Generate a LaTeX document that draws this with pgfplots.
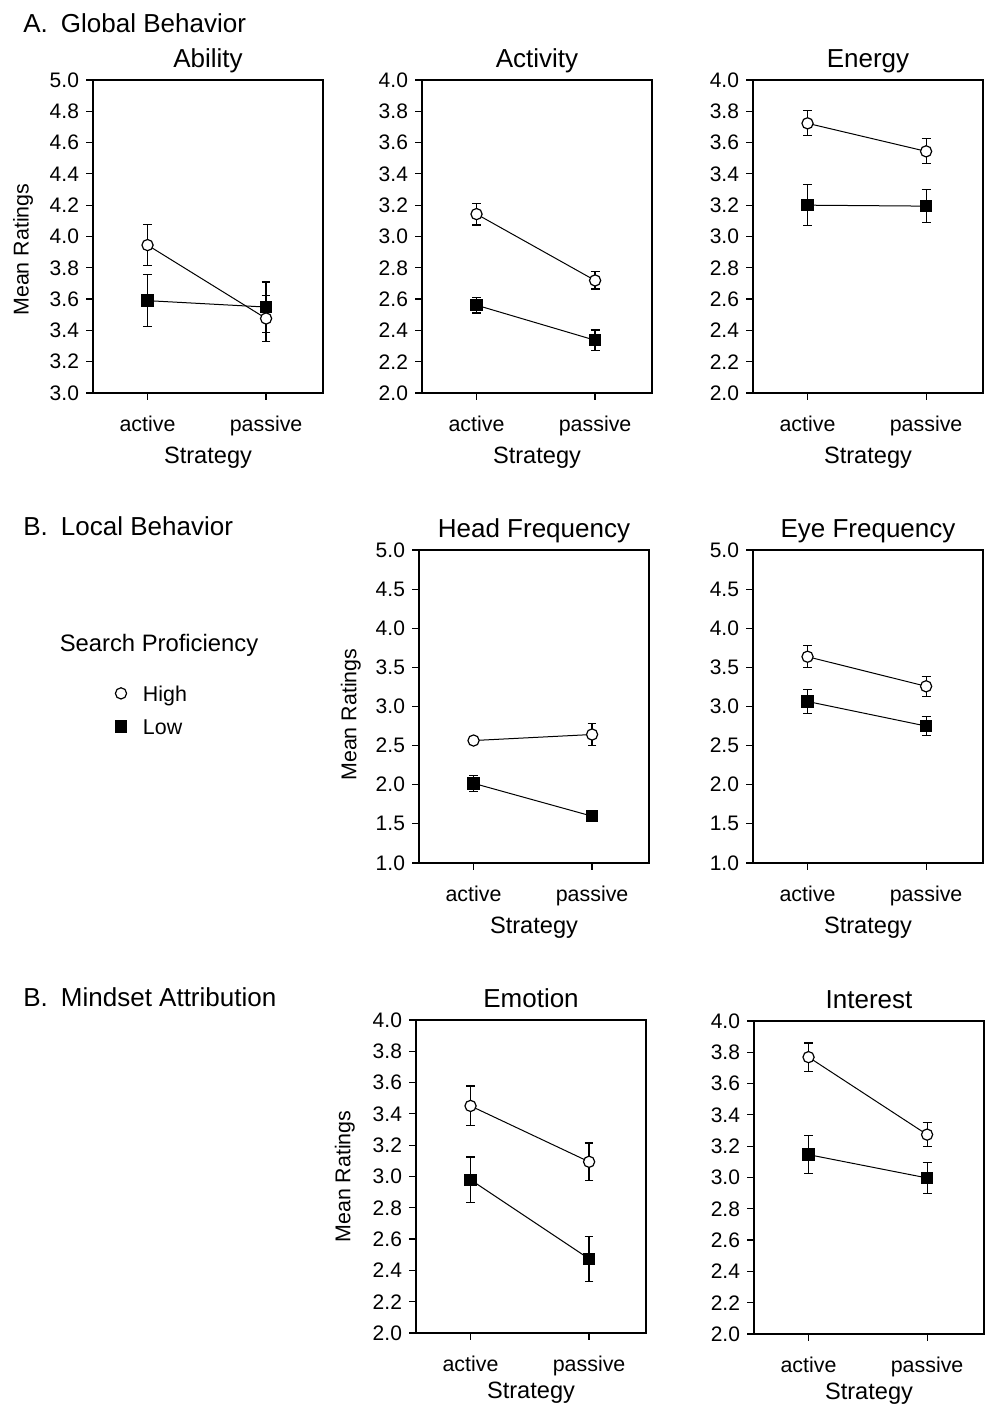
\documentclass[border=0pt]{standalone}
\usepackage{fontspec}
\setmainfont{Liberation Sans}
\usepackage{pgfplots}
\pgfplotsset{compat=1.18}

\pgfplotsset{
 every axis title shift=0pt,
 panel/.style={
  scale only axis, width=115pt, height=156.5pt,
  xmin=-0.46, xmax=1.48,
  xtick={0,1}, xticklabels={active,passive},
  tick align=outside, tick pos=left,
  major tick length=3.5pt,
  axis line style={line width=0.6pt},
  every tick/.style={line width=0.6pt, black},
  xlabel={Strategy},
  xlabel style={at={(axis description cs:0.5,0)}, anchor=base, yshift=-35.5pt, font=\fontsize{11.8pt}{14pt}\selectfont, inner sep=0pt},
  title style={at={(axis description cs:0.5,1)}, anchor=base, yshift=6.2pt, font=\fontsize{13pt}{15pt}\selectfont, inner sep=0pt},
  xticklabel style={font=\fontsize{10.7pt}{13pt}\selectfont, anchor=base, yshift=-16pt},
  yticklabel style={font=\fontsize{10.5pt}{13pt}\selectfont, /pgf/number format/fixed, /pgf/number format/fixed zerofill, /pgf/number format/precision=1},
  /pgf/number format/assume math mode=true,
  ylabel style={font=\fontsize{10.7pt}{13pt}\selectfont},
  clip=false,
 },
 bottomrow/.style={xlabel style={yshift=2.5pt}},
 hi/.style={black, line width=0.5pt, mark=*, mark size=2.8pt,
   mark options={fill=white, draw=black, line width=0.6pt},
   error bars/y dir=both, error bars/y explicit,
   error bars/error bar style={line width=0.6pt, black},
   error bars/error mark options={line width=0.6pt, mark size=2.2pt, rotate=90}},
 lo/.style={black, line width=0.5pt, mark=square*, mark size=2.8pt,
   mark options={fill=black, draw=black, line width=0.6pt},
   error bars/y dir=both, error bars/y explicit,
   error bars/error bar style={line width=0.6pt, black},
   error bars/error mark options={line width=0.6pt, mark size=2.2pt, rotate=90}},
}

\begin{document}
\begin{tikzpicture}
\path[use as bounding box] (0,0) rectangle (493pt,703pt);

\node[anchor=base west, inner sep=0pt, font=\fontsize{13pt}{15pt}\selectfont] at (11.5pt,686.5pt) {A.\hspace{0.5em}Global Behavior};
\node[anchor=base west, inner sep=0pt, font=\fontsize{13pt}{15pt}\selectfont] at (11.5pt,435pt) {B.\hspace{0.5em}Local Behavior};
\node[anchor=base west, inner sep=0pt, font=\fontsize{13pt}{15pt}\selectfont] at (11.5pt,199.5pt) {B.\hspace{0.5em}Mindset Attribution};
\node[anchor=base, inner sep=0pt, font=\fontsize{11.9pt}{14pt}\selectfont] at (79.5pt,377pt) {Search Proficiency};

% Ability
\begin{axis}[panel, at={(46.5pt,506.5pt)}, anchor=south west,
  title={Ability}, ymin=3, ymax=5, ytick={3.0,3.2,...,5.01},
  ylabel={Mean Ratings}, ylabel style={at={(axis description cs:-0.304,0.458)}, anchor=center}]
\addplot[lo] table[x=x,y=y,y error=e] {
x y e
0 3.590 0.165
1 3.549 0.160
};
\addplot[hi] table[x=x,y=y,y error=e] {
x y e
0 3.945 0.130
1 3.476 0.145
};
\end{axis}

% Activity
\begin{axis}[panel, at={(211pt,506.5pt)}, anchor=south west,
  title={Activity}, ymin=2, ymax=4, ytick={2.0,2.2,...,4.01}]
\addplot[lo] table[x=x,y=y,y error=e] {
x y e
0 2.561 0.050
1 2.337 0.065
};
\addplot[hi] table[x=x,y=y,y error=e] {
x y e
0 3.143 0.070
1 2.719 0.055
};
\end{axis}

% Energy
\begin{axis}[panel, at={(376.5pt,506.5pt)}, anchor=south west,
  title={Energy}, ymin=2, ymax=4, ytick={2.0,2.2,...,4.01}]
\addplot[lo] table[x=x,y=y,y error=e] {
x y e
0 3.200 0.130
1 3.194 0.105
};
\addplot[hi] table[x=x,y=y,y error=e] {
x y e
0 3.723 0.080
1 3.544 0.080
};
\end{axis}

% Head Frequency
\begin{axis}[panel, at={(209.5pt,271.5pt)}, anchor=south west,
  title={Head Frequency}, ymin=1, ymax=5, ytick={1.0,1.5,...,5.01},
  ylabel={Mean Ratings}, ylabel style={at={(axis description cs:-0.296,0.474)}, anchor=center},
  legend cell align=left,
  legend style={at={(axis description cs:0,0)}, anchor=north west, xshift=-152.3pt, yshift=88.85pt,
    draw=none, fill=none, inner sep=0pt, row sep=8.8pt,
    font=\fontsize{10.7pt}{13pt}\selectfont,
    nodes={inner sep=0pt, text height=7.7pt, text depth=0pt}}]
\addlegendimage{legend image code/.code={%
  \draw[only marks, mark=*, mark size=2.8pt, mark options={fill=white, draw=black, line width=0.6pt}] plot coordinates {(0pt,0pt)};
  \path[draw=none, fill=none] (-3.1pt,0pt) -- (11pt,0pt);}}
\addlegendentry{High}
\addlegendimage{legend image code/.code={%
  \draw[only marks, mark=square*, mark size=2.8pt, mark options={fill=black, draw=black, line width=0.6pt}] plot coordinates {(0pt,0pt)};
  \path[draw=none, fill=none] (-3.1pt,0pt) -- (10pt,0pt);}}
\addlegendentry{Low}
\addplot[forget plot, lo] table[x=x,y=y,y error=e] {
x y e
0 2.018 0.100
1 1.598 0.040
};
\addplot[forget plot, hi] table[x=x,y=y,y error=e] {
x y e
0 2.565 0.050
1 2.642 0.145
};
\end{axis}

% Eye Frequency
\begin{axis}[panel, at={(376.5pt,271.5pt)}, anchor=south west,
  title={Eye Frequency}, ymin=1, ymax=5, ytick={1.0,1.5,...,5.01}]
\addplot[lo] table[x=x,y=y,y error=e] {
x y e
0 3.064 0.150
1 2.750 0.125
};
\addplot[hi] table[x=x,y=y,y error=e] {
x y e
0 3.636 0.140
1 3.258 0.130
};
\end{axis}

% Emotion
\begin{axis}[panel, bottomrow, at={(208pt,36.5pt)}, anchor=south west,
  title={Emotion}, ymin=2, ymax=4, ytick={2.0,2.2,...,4.01},
  ylabel={Mean Ratings}, ylabel style={at={(axis description cs:-0.309,0.5)}, anchor=center}]
\addplot[lo] table[x=x,y=y,y error=e] {
x y e
0 2.979 0.145
1 2.474 0.143
};
\addplot[hi] table[x=x,y=y,y error=e] {
x y e
0 3.451 0.127
1 3.094 0.120
};
\end{axis}

% Interest
\begin{axis}[panel, bottomrow, at={(377pt,36pt)}, anchor=south west,
  title={Interest}, ymin=2, ymax=4, ytick={2.0,2.2,...,4.01}]
\addplot[lo] table[x=x,y=y,y error=e] {
x y e
0 3.146 0.120
1 2.997 0.100
};
\addplot[hi] table[x=x,y=y,y error=e] {
x y e
0 3.769 0.090
1 3.274 0.075
};
\end{axis}
\end{tikzpicture}
\end{document}
